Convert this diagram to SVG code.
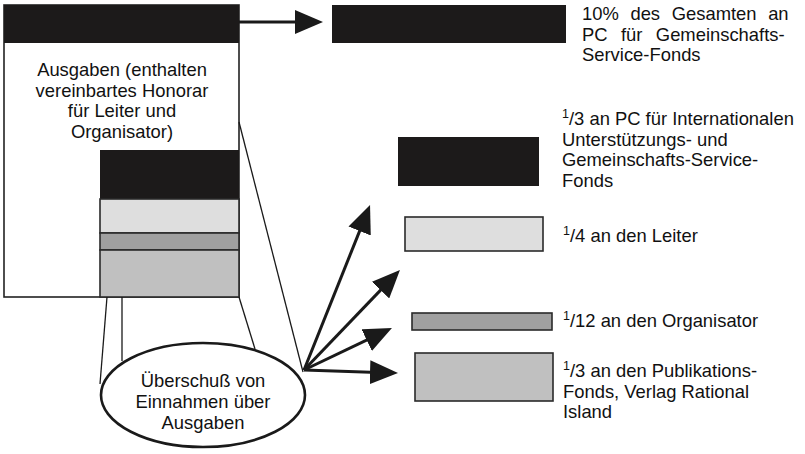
<svg xmlns="http://www.w3.org/2000/svg" width="805" height="454" viewBox="0 0 805 454">
  <style>
    text { font-family: "Liberation Sans", Arial, sans-serif; font-size: 18.4px; fill: #111; }
    .c { text-anchor: middle; }
    .sup { font-size: 12.5px; }
    .blk { fill: #1c1a1a; }
    .lt { fill: #dedede; stroke: #2a2a2a; stroke-width: 1.6; }
    .md { fill: #a0a0a0; stroke: #2a2a2a; stroke-width: 1.6; }
    .gr { fill: #c0c0c0; stroke: #2a2a2a; stroke-width: 1.6; }
    .thin { stroke: #1a1a1a; stroke-width: 1.3; fill: none; }
    .arr { stroke: #1a1a1a; stroke-width: 3; fill: none; marker-end: url(#head); }
  </style>
  <defs>
    <marker id="head" viewBox="0 0 28 24" refX="8" refY="12" markerWidth="28" markerHeight="24" markerUnits="userSpaceOnUse" orient="auto">
      <path d="M0,0 L28,12 L0,24 Z" fill="#1a1a1a"/>
    </marker>
  </defs>

  <!-- expenses box with stacked surplus shares -->
  <g id="expenses">
    <rect x="4" y="5" width="235" height="292" fill="#fff" stroke="#222" stroke-width="1.6"/>
    <rect class="blk" x="4" y="5" width="235" height="38"/>
    <text class="c" x="122" y="76">Ausgaben (enthalten</text>
    <text class="c" x="122" y="96.7">vereinbartes Honorar</text>
    <text class="c" x="122" y="117.4">für Leiter und</text>
    <text class="c" x="122" y="138.1">Organisator)</text>
  </g>
  <g id="surplus-stack">
    <rect class="blk" x="100" y="150" width="139" height="49"/>
    <rect class="lt" x="100" y="199" width="139" height="34"/>
    <rect class="md" x="100" y="233" width="139" height="17"/>
    <rect class="gr" x="100" y="250" width="139" height="47"/>
  </g>

  <!-- surplus ellipse -->
  <g id="surplus">
    <ellipse cx="203" cy="395" rx="102" ry="52" fill="#fff" stroke="#1a1a1a" stroke-width="2.6"/>
    <text class="c" x="203" y="387">Überschuß von</text>
    <text class="c" x="203" y="408">Einnahmen über</text>
    <text class="c" x="203" y="429">Ausgaben</text>
  </g>

  <!-- share: 10 % -->
  <g id="share-pc">
    <rect class="blk" x="332" y="5" width="234" height="38"/>
    <text x="582" y="20" word-spacing="6.5">10% des Gesamten an</text>
    <text x="582" y="40.7" word-spacing="8.3">PC für Gemeinschafts-</text>
    <text x="582" y="61.4">Service-Fonds</text>
  </g>

  <!-- share: 1/3 international fund -->
  <g id="share-intl">
    <rect class="blk" x="398" y="137" width="141" height="49"/>
    <text x="562" y="125"><tspan class="sup" dy="-7">1</tspan><tspan dy="7">/3 an PC für Internationalen</tspan></text>
    <text x="562" y="145.7">Unterstützungs- und</text>
    <text x="562" y="166.4">Gemeinschafts-Service-</text>
    <text x="562" y="187.1">Fonds</text>
  </g>

  <!-- share: 1/4 leader -->
  <g id="share-leader">
    <rect class="lt" x="405" y="217" width="138" height="34"/>
    <text x="563" y="242"><tspan class="sup" dy="-7">1</tspan><tspan dy="7">/4 an den Leiter</tspan></text>
  </g>

  <!-- share: 1/12 organiser -->
  <g id="share-organizer">
    <rect class="md" x="412" y="313" width="140" height="17"/>
    <text x="563" y="327"><tspan class="sup" dy="-7">1</tspan><tspan dy="7">/12 an den Organisator</tspan></text>
  </g>

  <!-- share: 1/3 publications -->
  <g id="share-publications">
    <rect class="gr" x="415" y="353" width="138" height="48"/>
    <text x="563" y="377"><tspan class="sup" dy="-7">1</tspan><tspan dy="7">/3 an den Publikations-</tspan></text>
    <text x="563" y="397.7">Fonds, Verlag Rational</text>
    <text x="563" y="418.4">Island</text>
  </g>

  <!-- connectors -->
  <g id="connectors">
    <line class="thin" x1="239" y1="122" x2="303" y2="372"/>
    <line class="thin" x1="107" y1="297" x2="100" y2="384"/>
    <line class="thin" x1="122" y1="297" x2="122" y2="361"/>
    <line class="thin" x1="239" y1="297" x2="255" y2="349"/>
    <line class="arr" x1="239" y1="22" x2="303" y2="22"/>
    <line class="arr" x1="304" y1="370" x2="362.6" y2="223.6"/>
    <line class="arr" x1="304" y1="370" x2="386.1" y2="284.4"/>
    <line class="arr" x1="304" y1="370" x2="373.9" y2="336.6"/>
    <line class="arr" x1="304" y1="370" x2="378" y2="372.4"/>
  </g>
</svg>
